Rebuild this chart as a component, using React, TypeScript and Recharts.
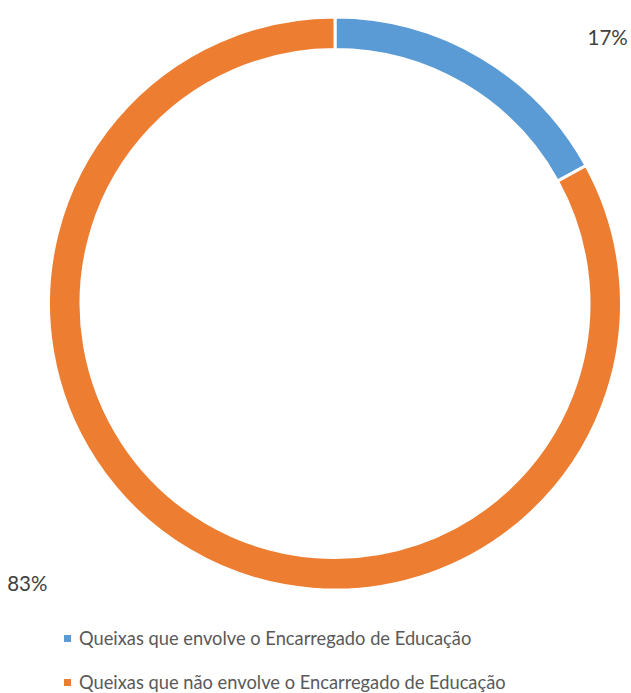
import React from 'react';
import { PieChart, Pie, Cell, Legend } from 'recharts';

const categories = ['Queixas que envolve o Encarregado de Educação', 'Queixas que não envolve o Encarregado de Educação'];
const values = [17, 83];
const percentLabels = ['17%', '83%'];
const colors = ['#5B9BD5', '#ED7D31'];

const data = categories.map((name, i) => ({ name, value: values[i] }));

// label placement: angle (deg, math convention) and radius factor relative to outerRadius
const labelAngles = [44.3, 222.2];
const labelRadius = [1.33, 1.45];

const FONT = 'Lato, "Open Sans", sans-serif';

const renderLabel = (props: any) => {
  const { cx, cy, outerRadius, index } = props;
  const a = (labelAngles[index] * Math.PI) / 180;
  const r = outerRadius * labelRadius[index];
  const x = cx + r * Math.cos(a);
  const y = cy - r * Math.sin(a);
  return (
    <text x={x} y={y} textAnchor="middle" dominantBaseline="central" fill="#404040" fontSize={20.5} fontFamily={FONT}>
      {percentLabels[index]}
    </text>
  );
};

const renderLegend = (props: any) => {
  const { payload } = props;
  return (
    <div style={{ fontFamily: FONT, fontSize: 18.3, color: '#595959', whiteSpace: 'nowrap' }}>
      {payload.map((p: any, i: number) => (
        <div key={i} style={{ display: 'flex', alignItems: 'center', height: 22, marginBottom: i === 0 ? 22 : 0 }}>
          <span style={{ display: 'inline-block', width: 7, height: 7, background: p.color, marginRight: 8 }} />
          <span>{p.value}</span>
        </div>
      ))}
    </div>
  );
};

export default function App() {
  return (
    <div style={{ position: 'absolute', left: 0, top: 0, width: 631, height: 693, background: '#fff' }}>
      <PieChart width={631} height={693} margin={{ top: 0, right: 0, bottom: 0, left: 0 }}>
        <Pie
          data={data}
          dataKey="value"
          nameKey="name"
          cx={335}
          cy={303.5}
          innerRadius={254}
          outerRadius={286.5}
          startAngle={90}
          endAngle={-270}
          stroke="#ffffff"
          strokeWidth={3}
          label={renderLabel}
          labelLine={false}
          isAnimationActive={false}
        >
          {data.map((d, i) => (
            <Cell key={d.name} fill={colors[i]} />
          ))}
        </Pie>
        <Legend
          content={renderLegend}
          wrapperStyle={{ left: 64, top: 627, width: 'auto', bottom: 'auto' }}
        />
      </PieChart>
    </div>
  );
}
